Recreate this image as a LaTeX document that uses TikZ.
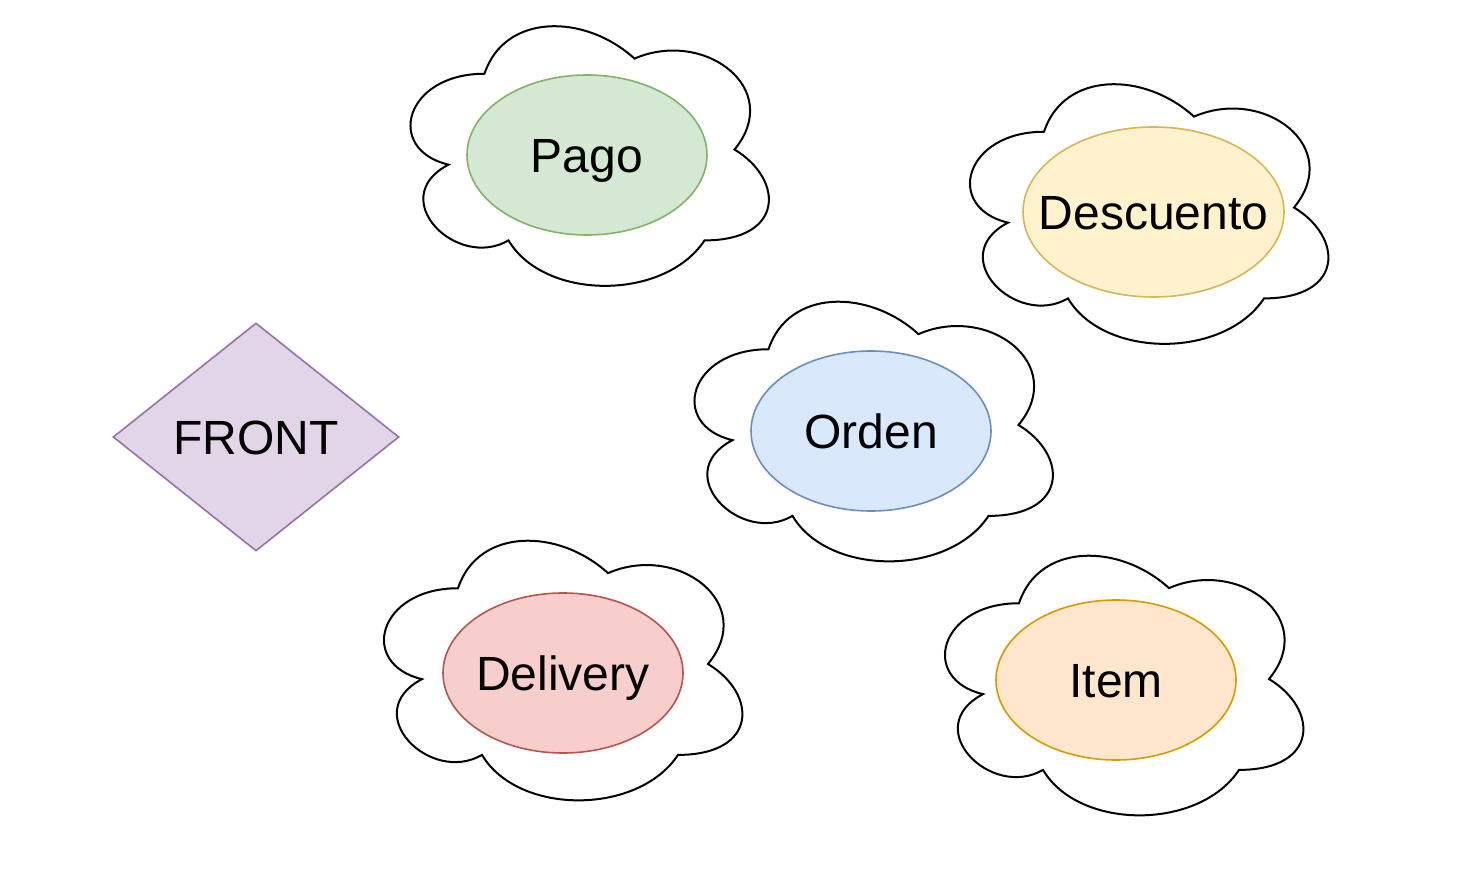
\documentclass[tikz,border=0pt]{standalone}
\usepackage{fontspec}
\setmainfont{Liberation Sans}
\usetikzlibrary{shapes.geometric}

% fill / stroke pairs
\definecolor{greenF}{HTML}{D5E8D4}\definecolor{greenS}{HTML}{82B366}
\definecolor{yellowF}{HTML}{FFF2CC}\definecolor{yellowS}{HTML}{D6B656}
\definecolor{blueF}{HTML}{DAE8FC}\definecolor{blueS}{HTML}{6C8EBF}
\definecolor{redF}{HTML}{F8CECC}\definecolor{redS}{HTML}{B85450}
\definecolor{orangeF}{HTML}{FFE6CC}\definecolor{orangeS}{HTML}{D79B00}
\definecolor{purpleF}{HTML}{E1D5E7}\definecolor{purpleS}{HTML}{9673A6}

\tikzset{
  cloudline/.style={draw=black, fill=white, line width=2pt, line join=miter},
  % cloud outline in a 400 x 303 box, origin at the top-left corner
  cloudpic/.pic={
    \path[cloudline]
      (100,75.75) .. controls (20,75.75) and (0,151.5) .. (64,166.65)
      .. controls (0,199.98) and (72,272.7) .. (124,242.4)
      .. controls (160,303) and (280,303) .. (320,242.4)
      .. controls (400,242.4) and (400,181.8) .. (350,151.5)
      .. controls (400,90.9) and (320,30.3) .. (250,60.6)
      .. controls (200,15.15) and (120,15.15) .. (100,75.75) -- cycle;
  },
  entity/.style={ellipse, line width=1.6pt, inner sep=0pt,
    minimum width=240pt, minimum height=160pt},
  lbl/.style={font=\fontsize{48}{57}\selectfont, inner sep=0pt,
    text height=34.4pt, text depth=0pt},
}

\begin{document}
\begin{tikzpicture}[x=1pt, y=-1pt]
  \useasboundingbox (0,0) rectangle (1470,874);

  % clouds
  \pic (cpago)      at (384.5,-2)    {cloudpic};
  \pic (cdescuento) at (944,56)      {cloudpic};
  \pic (corden)     at (668.5,273.5) {cloudpic};
  \pic (cdelivery)  at (358,512.5)   {cloudpic};
  \pic (citem)      at (919,527.5)   {cloudpic};

  % entities
  \node[entity, fill=greenF, draw=greenS] (pago) at (587,155) {};
  \node[lbl] (pagotext) at (pago) {Pago};

  \node[entity, fill=yellowF, draw=yellowS, minimum width=261pt, minimum height=170pt] (descuento) at (1153.5,212) {};
  \node[lbl] (descuentotext) at (descuento) {Descuento};

  \node[entity, fill=blueF, draw=blueS] (orden) at (871,431) {};
  \node[lbl] (ordentext) at (orden) {Orden};

  \node[entity, fill=redF, draw=redS] (delivery) at (563,673) {};
  \node[lbl] (deliverytext) at (delivery) {Delivery};

  \node[entity, fill=orangeF, draw=orangeS] (item) at (1116,680) {};
  \node[lbl] (itemtext) at (item) {Item};

  % front
  \node[diamond, fill=purpleF, draw=purpleS, line width=1.6pt, inner sep=0pt,
        minimum width=286pt, minimum height=228pt] (front) at (256,437) {};
  \node[lbl] (fronttext) at (front) {FRONT};
\end{tikzpicture}
\end{document}
